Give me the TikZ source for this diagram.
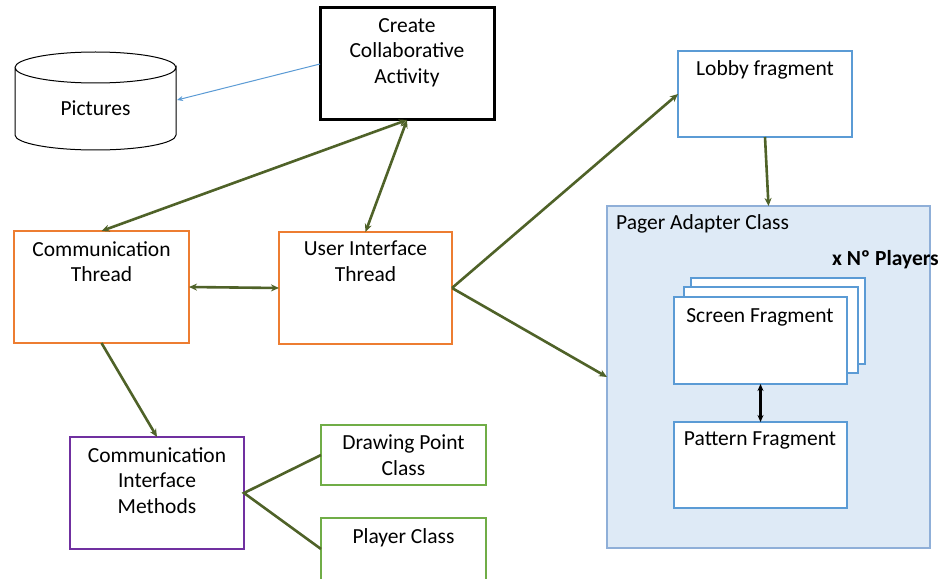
\documentclass[tikz,border=0pt]{standalone}
\usepackage{fontspec}
\setmainfont{Carlito}
\usetikzlibrary{arrows.meta}
\definecolor{gline}{HTML}{4F6228}
\definecolor{orng}{HTML}{ED7D31}
\definecolor{purp}{HTML}{7030A0}
\definecolor{grn}{HTML}{70AD47}
\definecolor{blu}{HTML}{5B9BD5}
\definecolor{pagerfill}{HTML}{DEEAF6}
\definecolor{pagerline}{HTML}{8FAFD8}
\begin{document}
\begin{tikzpicture}[x=1bp,y=-1bp,
  box/.style={draw, line width=2.7bp, inner sep=0pt, outer sep=0pt, anchor=north west, fill=white},
  lbl/.style={font=\fontsize{21.5bp}{25.7bp}\selectfont, align=center, inner sep=0pt, anchor=north},
  garrow/.style={draw=gline, line width=2.6bp, {Stealth[length=8bp,width=7bp]}-{Stealth[length=8bp,width=7bp]}},
  gline1/.style={draw=gline, line width=2.6bp},
  gto/.style={draw=gline, line width=2.6bp, -{Stealth[length=8bp,width=7bp]}}]
\path[use as bounding box, fill=white] (0,0) rectangle (942,579);

% Pictures cylinder
\draw[line width=1bp, fill=white] (15,67.5) -- (15,135) arc[start angle=180, end angle=0, x radius=80.5, y radius=15] -- (176,67.5) arc[start angle=0, end angle=180, x radius=80.5, y radius=15.5] -- cycle;
\draw[line width=1bp] (15,67.5) arc[start angle=180, end angle=360, x radius=80.5, y radius=15.5];
\node[lbl] (pict) at (95.5,101) {Pictures};
\coordinate (picR) at (177,100);

% boxes
\node[box, draw=black, line width=3bp, minimum width=174bp, minimum height=112bp] (create) at (320,8) {};
\node[lbl] (createT) at (407,18) {Create\\Collaborative\\Activity};

\node[box, draw=orng, minimum width=175bp, minimum height=112bp] (ct) at (14,231) {};
\node[lbl] (ctT) at (101.5,241) {Communication\\Thread};

\node[box, draw=orng, minimum width=173bp, minimum height=112bp] (ui) at (279,232) {};
\node[lbl] (uiT) at (365.5,241) {User Interface\\Thread};

\node[box, draw=purp, minimum width=174bp, minimum height=112bp] (cim) at (70,437) {};
\node[lbl] (cimT) at (157,447) {Communication\\Interface\\Methods};

\node[box, draw=grn, minimum width=165bp, minimum height=60bp] (dp) at (321,425) {};
\node[lbl] (dpT) at (403.5,435) {Drawing Point\\Class};

\node[box, draw=grn, minimum width=165bp, minimum height=62bp] (pc) at (321,518) {};
\node[lbl] (pcT) at (403.5,528) {Player Class};

\node[box, draw=blu, minimum width=174bp, minimum height=86bp] (lobby) at (678,51) {};
\node[lbl] (lobbyT) at (765,60) {Lobby fragment};

\node[box, draw=pagerline, fill=pagerfill, line width=1.2bp, minimum width=323bp, minimum height=342bp] (pager) at (607,206) {};
\node[lbl, anchor=north west] (pagerT) at (616,214) {Pager Adapter Class};
\node[lbl, anchor=north east, font=\fontsize{21.5bp}{25.7bp}\selectfont\bfseries] (nplayers) at (939,250) {x Nº Players};

\node[box, draw=blu, minimum width=174bp, minimum height=86bp] (sfb) at (691,278) {};
\node[box, draw=blu, minimum width=174bp, minimum height=86bp] (sfm) at (684,287) {};
\node[box, draw=blu, minimum width=173bp, minimum height=87bp] (sf) at (674,297) {};
\node[lbl] (sfT) at (760,308) {Screen Fragment};

\node[box, draw=blu, minimum width=173bp, minimum height=86bp] (pf) at (674,422) {};
\node[lbl] (pfT) at (760,432) {Pattern Fragment};

% connectors
\draw[draw=blu, line width=1bp, -{Stealth[length=6bp,width=5bp]}] (create.west) -- (picR);
\draw[garrow] (create.south) -- (ct.north);
\draw[garrow] (create.south) -- (ui.north);
\draw[garrow] (ct.east) -- (ui.west);
\draw[gto] (ct.south) -- (cim.north);
\draw[gline1] (dp.west) -- (cim.east) -- (pc.west);
\draw[gto] (ui.east) -- (lobby.west);
\draw[gto] (ui.east) -- (pager.west);
\draw[gto] (lobby.south) -- (pager.north);
\draw[line width=2.6bp, {Stealth[length=7bp,width=6bp]}-{Stealth[length=7bp,width=6bp]}] (sf.south) -- (pf.north);
\end{tikzpicture}
\end{document}
